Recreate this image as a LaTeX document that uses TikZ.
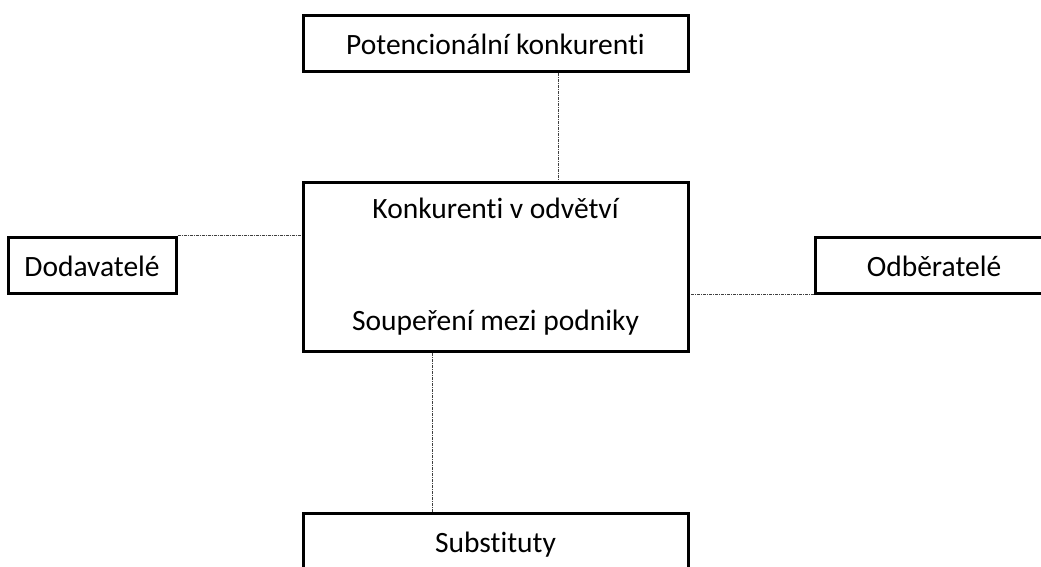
\documentclass[tikz,border=0pt]{standalone}
\usepackage{fontspec}
\setmainfont{Carlito}[Ligatures=NoCommon]
\usepackage{xcolor}
\definecolor{boxline}{HTML}{000000}
\definecolor{linkgray}{HTML}{404040}
\usepackage{tikz}
\usetikzlibrary{positioning}

\begin{document}
\begin{tikzpicture}[
  x=1pt, y=-1pt,
  box/.style={draw=boxline, line width=3pt, fill=white,
              minimum height=56pt, inner sep=0pt,
              text height=22pt, text depth=0pt,
              font=\fontsize{29.5}{35}\selectfont},
  mainbox/.style={draw=boxline, line width=3pt, fill=white,
              minimum width=385pt, minimum height=169pt, inner sep=0pt,
              align=center, font=\fontsize{29.5}{35}\selectfont},
  link/.style={draw=linkgray, line width=0.9pt,
               dash pattern=on 3pt off 1pt on 1pt off 1pt}
]
  \useasboundingbox (0,0) rectangle (1041,566);

  \node[box, minimum width=385pt] (pot)  at (495.5,43)  {Potencionální konkurenti};
  \node[mainbox]                  (konk) at (495.5,266.5)
    {Konkurenti v odvětví\\[77pt]Soupeření mezi podniky};
  \node[box, minimum width=168pt] (dod)  at (92,265)    {Dodavatelé};
  \node[box, minimum width=238pt] (odb)  at (934,265)   {Odběratelé};
  \node[box, minimum width=385pt] (sub)  at (495.5,541) {Substituty};

  \draw[link] ([xshift=63pt]pot.south) -- ([xshift=63pt]konk.north);
  \draw[link] (dod.north east) -- (dod.north east -| konk.west);
  \draw[link] (odb.south west) -- (odb.south west -| konk.east);
  \draw[link] ([xshift=-63pt]konk.south) -- ([xshift=-63pt]sub.north);

\end{tikzpicture}
\end{document}
